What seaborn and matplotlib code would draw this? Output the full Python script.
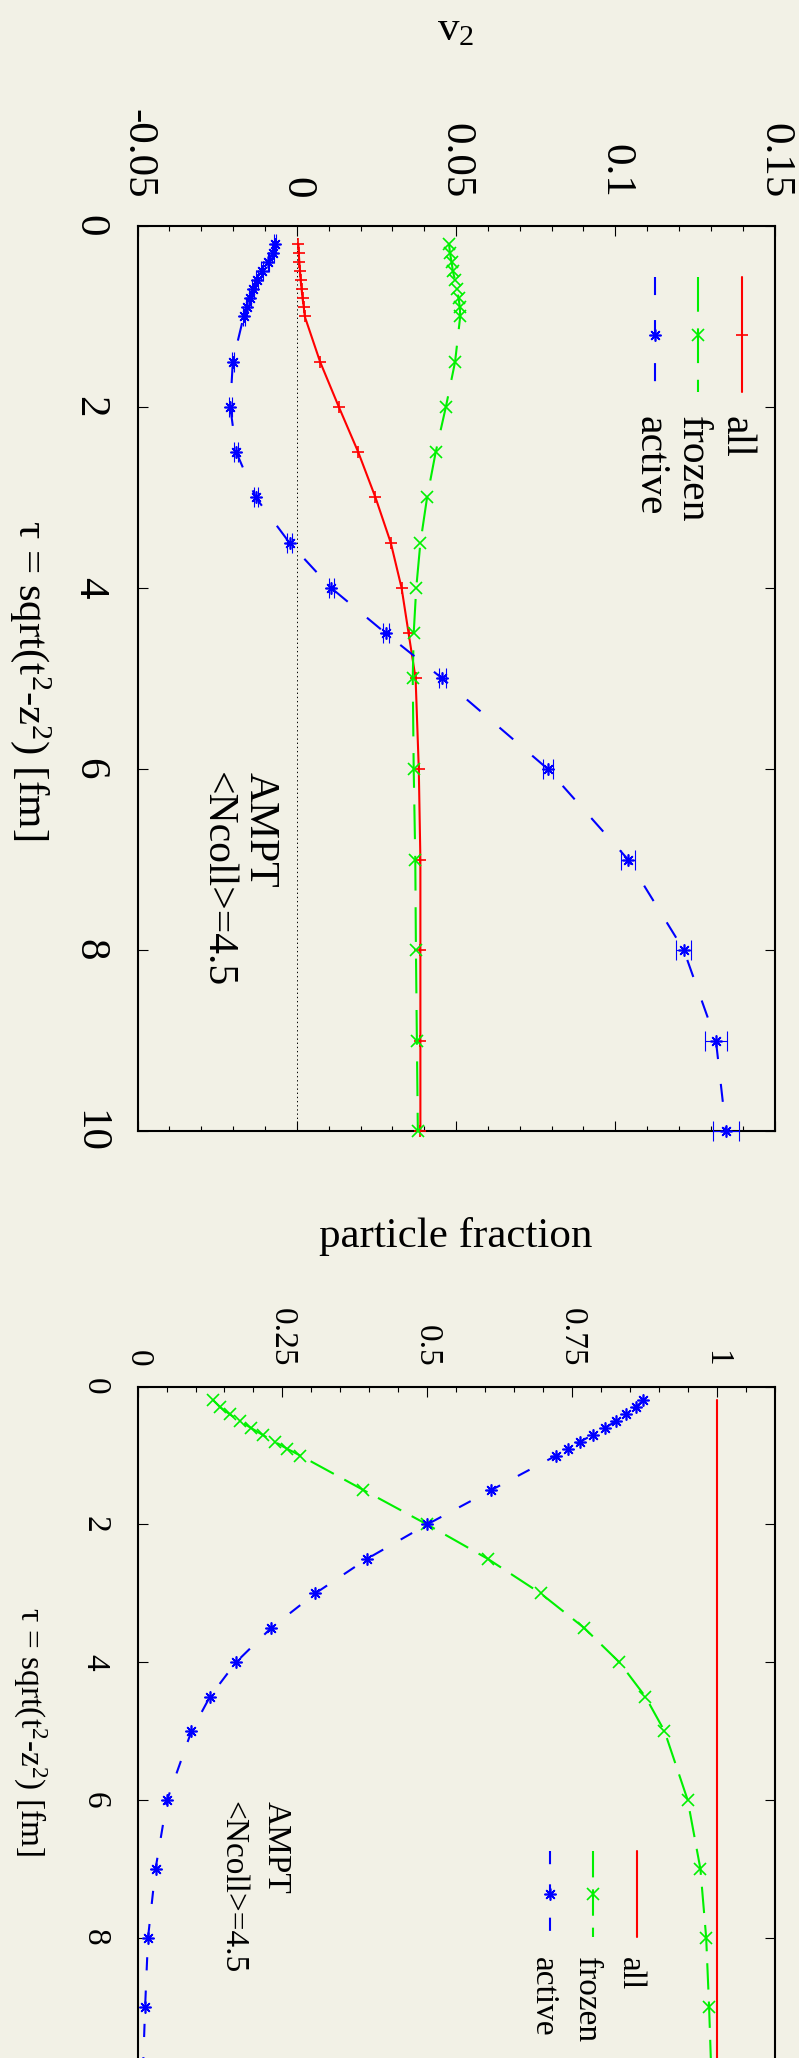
import matplotlib
matplotlib.use("Agg")
import matplotlib.pyplot as plt
import seaborn as sns
from matplotlib.ticker import MultipleLocator

# --- data ---
tau = [0.2, 0.3, 0.4, 0.5, 0.6, 0.7, 0.8, 0.9, 1.0,
       1.5, 2.0, 2.5, 3.0, 3.5, 4.0, 4.5, 5.0, 6.0, 7.0, 8.0, 9.0, 10.0]

# upper panel: v2 vs tau
v2_all = [0.0005, 0.0006, 0.0008, 0.0010, 0.0012, 0.0015, 0.0018, 0.0022, 0.0025,
          0.0073, 0.0132, 0.0193, 0.0247, 0.0295, 0.0329, 0.0351, 0.0373,
          0.0383, 0.0388, 0.0388, 0.0388, 0.0388]
v2_frozen = [0.0478, 0.0481, 0.0486, 0.0490, 0.0497, 0.0503, 0.0508, 0.0512, 0.0513,
             0.0497, 0.0468, 0.0436, 0.0409, 0.0388, 0.0375, 0.0367, 0.0364,
             0.0367, 0.0372, 0.0374, 0.0377, 0.0380]
v2_active = [-0.0068, -0.0076, -0.0089, -0.0108, -0.0124, -0.0137, -0.0148, -0.0158, -0.0167,
             -0.0201, -0.0209, -0.0190, -0.0129, -0.0023, 0.0108, 0.0279, 0.0457,
             0.0788, 0.1040, 0.1215, 0.1316, 0.1348]
v2_active_err = [0.0003] * 9 + [0.0004, 0.0005, 0.0006, 0.0006, 0.0007, 0.0008, 0.0009, 0.0010,
                                0.0016, 0.0023, 0.0024, 0.0035, 0.0041]

# lower panel: particle fraction vs tau
frac_all = [1.0] * len(tau)
frac_frozen = [0.131, 0.143, 0.159, 0.177, 0.196, 0.216, 0.237, 0.258, 0.281,
               0.390, 0.500, 0.605, 0.696, 0.771, 0.832, 0.877, 0.910,
               0.950, 0.972, 0.982, 0.987, 0.991]
frac_active = [0.873, 0.860, 0.844, 0.826, 0.807, 0.786, 0.764, 0.744, 0.723,
               0.611, 0.500, 0.396, 0.307, 0.231, 0.170, 0.125, 0.093,
               0.051, 0.031, 0.018, 0.013, 0.009]

series_names = ['all', 'frozen', 'active']
tau_ticks = [0, 2, 4, 6, 8, 10]
v2_ticks = [-0.05, 0, 0.05, 0.1, 0.15]
v2_ticklabels = ['-0.05', '0', '0.05', '0.1', '0.15']
frac_ticks = [0, 0.25, 0.5, 0.75, 1]
frac_ticklabels = ['0', '0.25', '0.5', '0.75', '1']

# --- style ---
sns.set_style('ticks')
plt.rcParams['font.family'] = ['Liberation Serif', 'DejaVu Serif']
plt.rcParams['mathtext.fontset'] = 'custom'
plt.rcParams['mathtext.rm'] = 'Liberation Serif'
plt.rcParams['mathtext.it'] = 'Liberation Serif:italic'
plt.rcParams['mathtext.default'] = 'rm'
plt.rcParams['lines.scale_dashes'] = False
plt.rcParams['text.color'] = 'black'

BG = '#f2f1e6'
RED, GREEN, BLUE = '#ff0000', '#00f000', '#0000ff'
LW = 1.5
ASTER = (8, 2, 0)

W, H = 799.0, 2058.0
fig = plt.figure(figsize=(W / 100, H / 100), dpi=100, facecolor=BG)


def box(left, top, right, bottom):
    return [left / W, 1 - bottom / H, (right - left) / W, (bottom - top) / H]


ax1 = fig.add_axes(box(137.6, 226, 774.5, 1131))
ax2 = fig.add_axes(box(137.6, 1386.7, 774.5, 2075.5))


def curve(ax, x, color, ls, marker=None):
    kw = dict(x=x, y=tau, sort=False, estimator=None, ax=ax, color=color,
              lw=LW, linestyle=ls, clip_on=False, zorder=3)
    if marker is not None:
        kw.update(marker=marker, markersize=8.6, markeredgewidth=1.2,
                  markeredgecolor=color, markerfacecolor=color)
    sns.lineplot(**kw)


def style_axes(ax, fs, xpad, ypad, tau_labels):
    ax.set_facecolor(BG)
    for s in ax.spines.values():
        s.set_linewidth(1.5)
        s.set_color('black')
    ax.set_ylim(10, 0)
    ax.set_yticks(tau_ticks, tau_labels)
    ax.tick_params(axis='both', which='both', direction='in', top=True, bottom=True,
                   left=True, right=True, color='black', labelcolor='black')
    ax.tick_params(which='major', length=7.2, width=0.8)
    ax.tick_params(which='minor', length=3.6, width=0.8)
    ax.tick_params(axis='x', labeltop=True, labelbottom=False, labelrotation=-90,
                   pad=xpad, labelsize=fs)
    ax.tick_params(axis='y', labelrotation=-90, pad=ypad, labelsize=fs)
    for lab in ax.get_yticklabels():
        lab.set_va('center')
    ax.set_xlabel('')
    ax.set_ylabel('')


def key(ax, xs, y_top, y_bot, y_mark, y_text, base_off, fs, styles, markers):
    colors = [RED, GREEN, BLUE]
    for x, name, col, ls, mk in zip(xs, series_names, colors, styles, markers):
        ax.plot([x, x], [y_top, y_bot], transform=ax.transAxes, color=col, lw=LW,
                linestyle=ls, clip_on=False)
        if mk is not None:
            ax.plot([x], [y_mark], transform=ax.transAxes, marker=mk, markersize=8.6,
                    markeredgewidth=1.2, color=col, clip_on=False)
        ax.text(x - base_off, y_text, name, transform=ax.transAxes, rotation=-90,
                rotation_mode='anchor', ha='left', va='baseline', fontsize=fs)


# --- upper panel ---
green_ls = (0, (25, 12))
blue_ls = (0, (13, 18))
ax1.axvline(0, color='black', lw=0.7, ls=(0, (1, 2)), zorder=1)
curve(ax1, v2_all, RED, '-', '+')
curve(ax1, v2_frozen, GREEN, green_ls, 'x')
curve(ax1, v2_active, BLUE, blue_ls, ASTER)
ax1.errorbar(v2_active, tau, xerr=v2_active_err, fmt='none', ecolor=BLUE,
             elinewidth=0.8, capsize=7, capthick=0.8, zorder=3, clip_on=False)
ax1.set_xlim(-0.05, 0.15)
ax1.set_xticks(v2_ticks, v2_ticklabels)
ax1.xaxis.set_minor_locator(MultipleLocator(0.01))
style_axes(ax1, 31, 20, 21, [str(t) for t in tau_ticks])
key(ax1, [0.9485, 0.8799, 0.8124], 0.9436, 0.8169, 0.8796, 0.7898, 16 / 636.9, 30,
    ['-', green_ls, blue_ls], ['+', 'x', ASTER])
ax1.text(-0.0148, 6.03, 'AMPT', rotation=-90, rotation_mode='anchor',
         ha='left', va='baseline', fontsize=30)
ax1.text(-0.0284, 6.03, '<Ncoll>=4.5', rotation=-90, rotation_mode='anchor',
         ha='left', va='baseline', fontsize=30)

# --- lower panel (its far end lies beyond the page, as in the original) ---
green_ls2 = (0, (19, 8.6))
blue_ls2 = (0, (9.5, 14.5))
curve(ax2, frac_all, RED, '-')
curve(ax2, frac_frozen, GREEN, green_ls2, 'x')
curve(ax2, frac_active, BLUE, blue_ls2, ASTER)
ax2.set_xlim(0, 1.1)
ax2.set_xticks(frac_ticks, frac_ticklabels)
ax2.xaxis.set_minor_locator(MultipleLocator(0.05))
style_axes(ax2, 24, 14.5, 20, [str(t) for t in tau_ticks[:-1]] + [''])
key(ax2, [0.7836, 0.7155, 0.6475], 0.3263, 0.2005, 0.2633, 0.1720, 15 / 636.9, 24,
    ['-', green_ls2, blue_ls2], [None, 'x', ASTER])
ax2.text(0.2252, 6.01, 'AMPT', rotation=-90, rotation_mode='anchor',
         ha='left', va='baseline', fontsize=24)
ax2.text(0.1498, 6.01, '<Ncoll>=4.5', rotation=-90, rotation_mode='anchor',
         ha='left', va='baseline', fontsize=24)

# --- axis titles ---
fig.text(456 / W, 1 - 30 / H, 'v$_2$', ha='center', va='center', fontsize=31)
fig.text(456 / W, 1 - 1237 / H, 'particle fraction', ha='center', va='center', fontsize=31)
fig.text(30 / W, 1 - 680 / H, 'τ = sqrt(t$^2$-z$^2$) [fm]', rotation=-90,
         ha='center', va='center', fontsize=31)
fig.text(30 / W, 1 - 1732 / H, 'τ = sqrt(t$^2$-z$^2$) [fm]', rotation=-90,
         ha='center', va='center', fontsize=24)

fig.savefig('out.png', dpi=100, facecolor=BG)
